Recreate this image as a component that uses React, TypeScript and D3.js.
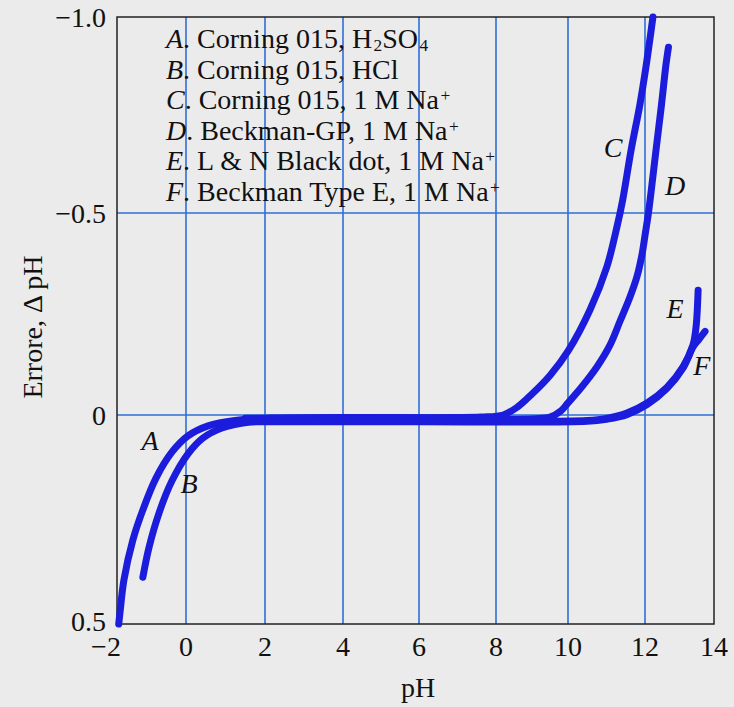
import React from "react";
import * as d3 from "d3";

const W = 734;
const H = 707;

const xTicks = [-2, 0, 2, 4, 6, 8, 10, 12, 14];
const yTicks = [-1.0, -0.5, 0, 0.5];
const yTickLabels = ["\u22121.0", "\u22120.5", "0", "0.5"];
const xTickLabels = ["\u22122", "0", "2", "4", "6", "8", "10", "12", "14"];
const xGrid = [0, 2, 4, 6, 8, 10, 12];
const yGrid = [-0.5, 0];

type P = [number, number];

const curveA: P[] = [
  [-1.95, 0.5], [-1.91, 0.47], [-1.8, 0.395], [-1.54, 0.299], [-1.25, 0.227], [-0.87, 0.151],
  [-0.41, 0.089], [0.05, 0.05], [0.56, 0.026], [1.24, 0.013], [2.13, 0.008], [4, 0.007], [6, 0.007], [8, 0.007],
];
const curveB: P[] = [
  [-1.25, 0.388], [-1.07, 0.316], [-0.78, 0.234], [-0.41, 0.158], [0.05, 0.093], [0.43, 0.055],
  [0.91, 0.031], [1.62, 0.017], [2.38, 0.012], [4, 0.012], [6, 0.012],
];
const curveC: P[] = [
  [1.5, 0.008], [4, 0.006], [7.6, 0.005], [8.2, 0.0], [8.6, -0.02], [9.0, -0.052], [9.5, -0.098],
  [10.0, -0.158], [10.57, -0.26], [11.01, -0.367], [11.27, -0.465], [11.42, -0.533], [11.64, -0.661],
  [11.87, -0.778], [12.04, -0.88], [12.23, -1.0],
];
const curveD: P[] = [
  [1.5, 0.012], [5, 0.01], [9.1, 0.009], [9.5, 0.005], [9.8, -0.01], [10.0, -0.03], [10.36, -0.07],
  [10.75, -0.119], [11.09, -0.173], [11.35, -0.232], [11.61, -0.292], [11.79, -0.342], [11.92, -0.396],
  [12.01, -0.45], [12.1, -0.5], [12.32, -0.661], [12.48, -0.778], [12.61, -0.88], [12.68, -0.923],
];
const curveE: P[] = [
  [1.5, 0.014], [6, 0.014], [10.5, 0.013], [11.0, 0.008], [11.53, -0.005], [12.06, -0.03], [12.64, -0.069],
  [13.1, -0.119], [13.39, -0.173], [13.48, -0.218], [13.54, -0.309],
];
const curveF: P[] = [
  [1.5, 0.016], [6, 0.016], [10.5, 0.015], [11.0, 0.01], [11.53, -0.001], [12.06, -0.026], [12.64, -0.066],
  [13.1, -0.116], [13.39, -0.168], [13.57, -0.188], [13.74, -0.207],
];
const curves = [curveA, curveB, curveC, curveD, curveE, curveF];

const curveLetters = ["A", "B", "C", "D", "E", "F"];
const curveLabelPos: P[] = [
  [-1.04, 0.084], [0.08, 0.187], [11.17, -0.643], [12.87, -0.546], [12.87, -0.24], [13.65, -0.099],
];

type Seg = { t: string; sub?: boolean; sup?: boolean };
const legendRows: Seg[][] = [
  [{ t: ". Corning 015, H" }, { t: "2", sub: true }, { t: "SO" }, { t: "4", sub: true }],
  [{ t: ". Corning 015, HCl" }],
  [{ t: ". Corning 015, 1 M Na" }, { t: "+", sup: true }],
  [{ t: ". Beckman-GP, 1 M Na" }, { t: "+", sup: true }],
  [{ t: ". L & N Black dot, 1 M Na" }, { t: "+", sup: true }],
  [{ t: ". Beckman Type E, 1 M Na" }, { t: "+", sup: true }],
];

export default function App() {
  const x = d3.scaleLinear().domain(xTicks).range([117, 186, 265, 343, 419, 496, 568, 645, 714]);
  const y = d3.scaleLinear().domain([-1, -0.5, 0, 0.5]).range([17, 213, 415, 624]);
  const line = d3
    .line<P>()
    .x((d) => x(d[0]))
    .y((d) => y(d[1]))
    .curve(d3.curveCatmullRom.alpha(0.5));

  const font = "'Liberation Serif', 'Times New Roman', serif";
  const blue = "#1c1cdc";
  const gridBlue = "#2f6fd6";
  const fs = 28;

  return (
    <svg
      width={W}
      height={H}
      style={{ position: "absolute", left: 0, top: 0 }}
      fontFamily={font}
    >
      <rect x={0} y={0} width={W} height={H} fill="#ebebeb" />
      {xGrid.map((v) => (
        <line key={"gx" + v} x1={x(v)} x2={x(v)} y1={y(-1)} y2={y(0.5)} stroke={gridBlue} strokeWidth={1.6} />
      ))}
      {yGrid.map((v) => (
        <line key={"gy" + v} x1={x(-2)} x2={x(14)} y1={y(v)} y2={y(v)} stroke={gridBlue} strokeWidth={1.6} />
      ))}
      <rect
        x={x(-2)}
        y={y(-1)}
        width={x(14) - x(-2)}
        height={y(0.5) - y(-1)}
        fill="none"
        stroke="#222"
        strokeWidth={1.5}
      />
      {curves.map((c, i) => (
        <path key={"c" + i} d={line(c) || ""} fill="none" stroke={blue} strokeWidth={7} strokeLinecap="round" />
      ))}
      {curveLetters.map((l, i) => (
        <text
          key={"cl" + i}
          x={x(curveLabelPos[i][0])}
          y={y(curveLabelPos[i][1])}
          textAnchor="middle"
          fontStyle="italic"
          fontSize={fs}
          fill="#111"
        >
          {l}
        </text>
      ))}
      {legendRows.map((row, i) => (
        <text key={"lg" + i} x={166} y={48 + i * 30.6} fontSize={fs} fill="#111">
          <tspan fontStyle="italic">{curveLetters[i]}</tspan>
          {row.map((s, j) => (
            <tspan
              key={j}
              dx={s.sub || s.sup ? 1.5 : 0}
              fontSize={s.sub || s.sup ? fs * 0.62 : fs}
              baselineShift={s.sub ? "-18%" : s.sup ? "45%" : undefined}
            >
              {s.t}
            </tspan>
          ))}
        </text>
      ))}
      {yTicks.map((v, i) => (
        <text
          key={"yt" + v}
          x={106}
          y={y(v)}
          dy={v === 0.5 ? "0.25em" : "0.35em"}
          textAnchor="end"
          fontSize={fs}
          fill="#111"
        >
          {yTickLabels[i]}
        </text>
      ))}
      {xTicks.map((v, i) => (
        <text
          key={"xt" + v}
          x={x(v) + (v < 0 ? -11 : 0)}
          y={656}
          textAnchor="middle"
          fontSize={fs}
          fill="#111"
        >
          {xTickLabels[i]}
        </text>
      ))}
      <text x={418} y={697} textAnchor="middle" fontSize={fs} fill="#111">
        pH
      </text>
      <text
        transform={`translate(42, 327) rotate(-90)`}
        textAnchor="middle"
        fontSize={fs}
        fill="#111"
      >
        Errore, Δ pH
      </text>
    </svg>
  );
}
